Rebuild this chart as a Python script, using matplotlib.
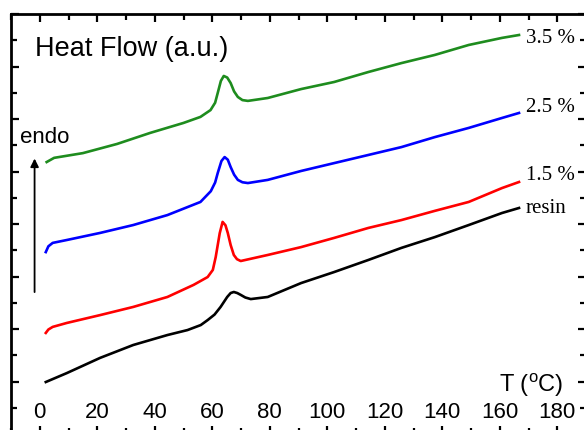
import numpy as np
import matplotlib.pyplot as plt

# DSC curves (temperature in C, heat flow in a.u.)
t_35 = [2.4, 5.0, 15.0, 26.9, 38.4, 50.0, 55.9, 59.4, 61.0, 61.9, 63.0, 64.0, 65.2, 66.4, 67.6, 68.9, 70.5, 72.4, 79.3,
        90.9, 102.4, 114.3, 125.8, 137.4, 149.2, 160.8, 166.7]
hf_35 = [10.36, 10.52, 10.70, 11.05, 11.47, 11.85, 12.08, 12.34, 12.62, 12.99, 13.45, 13.64, 13.58, 13.37, 13.05, 12.84, 12.72, 12.69, 12.80,
         13.14, 13.41, 13.79, 14.13, 14.44, 14.82, 15.09, 15.20]

t_25 = [2.1, 3.0, 4.5, 9.4, 21.0, 32.5, 44.4, 55.9, 59.5, 61.0, 61.9, 63.2, 64.3, 65.4, 66.4, 67.6, 68.9, 70.5, 72.4, 79.3,
        90.9, 102.4, 114.3, 125.8, 137.4, 149.2, 160.8, 166.7]
hf_25 = [6.93, 7.15, 7.28, 7.39, 7.66, 7.96, 8.34, 8.84, 9.25, 9.58, 9.94, 10.40, 10.55, 10.45, 10.17, 9.88, 9.68, 9.59, 9.56, 9.68,
         10.02, 10.32, 10.63, 10.93, 11.31, 11.66, 12.04, 12.23]

t_15 = [2.1, 3.0, 4.5, 9.4, 21.0, 32.5, 44.4, 53.5, 58.4, 60.2, 61.2, 62.6, 63.6, 64.6, 65.4, 66.4, 67.5, 68.6, 69.9, 79.3,
        90.9, 102.4, 114.3, 125.8, 137.4, 149.2, 160.8, 166.7]
hf_15 = [3.85, 3.98, 4.08, 4.23, 4.53, 4.84, 5.22, 5.68, 5.98, 6.25, 6.74, 7.65, 8.08, 7.95, 7.66, 7.20, 6.82, 6.66, 6.59, 6.82,
         7.12, 7.47, 7.85, 8.15, 8.50, 8.84, 9.37, 9.60]

t_resin = [2.1, 9.4, 21.0, 32.5, 44.4, 51.4, 56.0, 58.4, 60.8, 62.9, 65.2, 66.4, 67.5, 68.7, 69.9, 71.5, 73.4, 79.3,
           90.9, 102.4, 114.3, 125.8, 137.4, 149.2, 160.8, 166.7]
hf_resin = [1.98, 2.32, 2.90, 3.39, 3.77, 3.96, 4.15, 4.34, 4.55, 4.84, 5.22, 5.37, 5.41, 5.37, 5.30, 5.20, 5.14, 5.22,
            5.75, 6.17, 6.63, 7.09, 7.50, 7.96, 8.42, 8.61]

labels = ['3.5 %', '2.5 %', '1.5 %', 'resin']
label_y = [15.05, 12.45, 9.85, 8.6]

fig = plt.figure(figsize=(5.84, 4.30), dpi=100)
ax = fig.add_axes([11 / 584, -4 / 430, 575 / 584, 420 / 430])

ax.plot(t_35, hf_35, color='#1e8c1e', lw=1.9)
ax.plot(t_25, hf_25, color='#0000ff', lw=1.9)
ax.plot(t_15, hf_15, color='#ff0000', lw=1.9)
ax.plot(t_resin, hf_resin, color='black', lw=1.9)

for lab, y in zip(labels, label_y):
    ax.text(169, y, lab, family='Liberation Serif', fontsize=15, va='center', ha='left')

ax.set_xlim(-10, 190)
ax.set_ylim(0, 16)
ax.set_xticks(np.arange(0, 181, 20))
ax.set_xticks(np.arange(-10, 191, 10), minor=True)
ax.set_yticks(np.arange(0, 17, 2))
ax.set_yticks(np.arange(1, 16, 2), minor=True)

for s in ax.spines.values():
    s.set_linewidth(2)
ax.tick_params(which='both', direction='in', top=True, right=True, width=1.6)
ax.tick_params(which='major', length=6)
ax.tick_params(which='minor', length=4)
ax.tick_params(axis='x', which='major', labelsize=16, pad=-23)
ax.tick_params(axis='y', labelleft=False)
for lab in ax.get_xticklabels():
    lab.set_family('Liberation Sans')

ax.text(-1.5, 14.65, 'Heat Flow (a.u.)', family='Liberation Sans', fontsize=19.5, va='center')
ax.text(-7, 11.3, 'endo', family='Liberation Sans', fontsize=16, va='center')
ax.annotate('', xy=(-1.8, 10.6), xytext=(-1.8, 5.3),
            arrowprops=dict(arrowstyle='-|>', color='black', lw=1.3, mutation_scale=12))
ax.text(182, 1.85, r'T ($\mathregular{^o}$C)', family='Liberation Sans', fontsize=17,
        va='center', ha='right')

fig.savefig('out.png', dpi=100)
